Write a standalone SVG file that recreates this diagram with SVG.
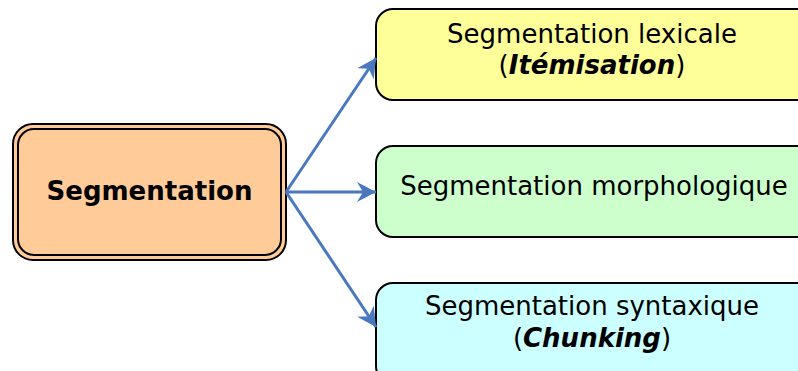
<svg xmlns="http://www.w3.org/2000/svg" width="798" height="371" viewBox="0 0 798 371">
  <style>
    .box { stroke: #000; stroke-width: 2; }
    .lbl { font-family: "DejaVu Sans", Verdana, sans-serif; font-size: 26px; fill: #000; text-anchor: middle; }
    .b { font-weight: bold; }
    .bi { font-weight: bold; font-style: italic; }
    .conn { stroke: #4a78c0; stroke-width: 3; fill: none; marker-end: url(#head); }
  </style>
  <defs>
    <marker id="head" markerUnits="userSpaceOnUse" markerWidth="20" markerHeight="20" refX="19" refY="10" orient="auto">
      <path d="M0,0 L19,10 L0,20 L6,10 Z" fill="#4a78c0"/>
    </marker>
  </defs>

  <!-- root node: double-outlined rounded box -->
  <g id="segmentation">
    <rect class="box" x="13" y="124" width="273" height="136" rx="20" fill="#ffcc99"/>
    <rect x="18" y="129" width="263" height="126" rx="16" fill="none" stroke="#000" stroke-width="2"/>
    <text class="lbl b" x="149.5" y="200">Segmentation</text>
  </g>

  <g id="lexicale">
    <rect class="box" x="376" y="9" width="440" height="91" rx="17" fill="#ffff99"/>
    <text class="lbl" x="592" y="42.5">Segmentation lexicale</text>
    <text class="lbl" x="592" y="74">(<tspan class="bi">Itémisation</tspan>)</text>
  </g>

  <g id="morphologique">
    <rect class="box" x="376" y="146" width="440" height="91" rx="17" fill="#ccffcc"/>
    <text class="lbl" x="594" y="195">Segmentation morphologique</text>
  </g>

  <g id="syntaxique">
    <rect class="box" x="376" y="283" width="440" height="100" rx="17" fill="#ccffff"/>
    <text class="lbl" x="592" y="315">Segmentation syntaxique</text>
    <text class="lbl" x="592" y="347">(<tspan class="bi">Chunking</tspan>)</text>
  </g>

  <g id="connectors">
    <line class="conn" x1="286" y1="192" x2="376" y2="58"/>
    <line class="conn" x1="286" y1="192" x2="376" y2="192"/>
    <line class="conn" x1="286" y1="192" x2="376" y2="327"/>
  </g>
</svg>
